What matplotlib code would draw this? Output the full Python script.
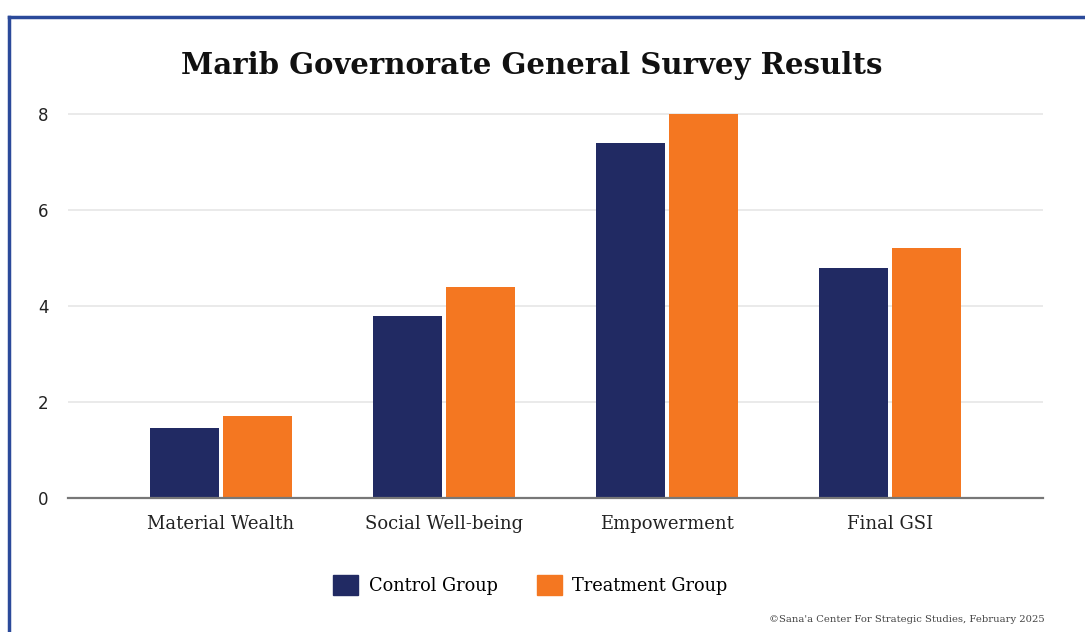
import matplotlib
matplotlib.use('Agg')
import matplotlib.pyplot as plt
import numpy as np
from matplotlib.lines import Line2D
from matplotlib.patches import Patch

# Datos del gráfico
categorias = ['Material Wealth', 'Social Well-being', 'Empowerment', 'Final GSI']
control = [1.45, 3.8, 7.4, 4.8]
tratamiento = [1.7, 4.4, 8.0, 5.2]
series = ['Control Group', 'Treatment Group']
y_ticks = [0, 2, 4, 6, 8]

azul = '#212a63'
naranja = '#f47721'

fig = plt.figure(figsize=(10.85, 6.32), dpi=100)
ax = fig.add_axes([0.0627, 0.212, 0.8986, 0.6228])

x = np.arange(len(categorias))
ancho = 0.31
ax.bar(x - ancho / 2 - 0.01, control, ancho, color=azul, zorder=3)
ax.bar(x + ancho / 2 + 0.01, tratamiento, ancho, color=naranja, zorder=3)

ax.set_xlim(-0.686, 3.686)
ax.set_ylim(0, 8.2)
ax.set_yticks(y_ticks)
ax.set_yticklabels([str(t) for t in y_ticks], fontsize=12, color='#222222', family='DejaVu Sans')
ax.set_xticks(x)
ax.set_xticklabels(categorias, fontsize=13, color='#222222', family='DejaVu Serif')
ax.tick_params(axis='both', length=0)
ax.tick_params(axis='y', pad=14)
ax.tick_params(axis='x', pad=12)
ax.grid(axis='y', color='#e6e6e6', linewidth=1.2, zorder=0)
for s in ['top', 'right', 'left']:
    ax.spines[s].set_visible(False)
ax.spines['bottom'].set_color('#777777')
ax.spines['bottom'].set_linewidth(1.6)
ax.spines['bottom'].set_zorder(4)

fig.text(0.49, 0.897, 'Marib Governorate General Survey Results', ha='center', va='center',
         fontsize=21, fontweight='bold', family='DejaVu Serif', color='#111111')

handles = [Patch(color=azul), Patch(color=naranja)]
fig.legend(handles, series, loc='center', bbox_to_anchor=(0.489, 0.074), ncol=2,
           frameon=False, handlelength=1.4, handleheight=1.4,
           columnspacing=2.2, handletextpad=0.6, prop={'family': 'DejaVu Serif', 'size': 12.8})

fig.text(0.963, 0.019, '\u00a9Sana\'a Center For Strategic Studies, February 2025', ha='right',
         va='center', fontsize=7.2, color='#444444', family='DejaVu Serif')

# Marco azul
fig.add_artist(Line2D([0.0083, 0.0083], [0, 0.973], color='#2b4a9a', linewidth=2.5))
fig.add_artist(Line2D([0.0083, 1.0], [0.973, 0.973], color='#2b4a9a', linewidth=2.5))

plt.savefig('out.png', dpi=100)
